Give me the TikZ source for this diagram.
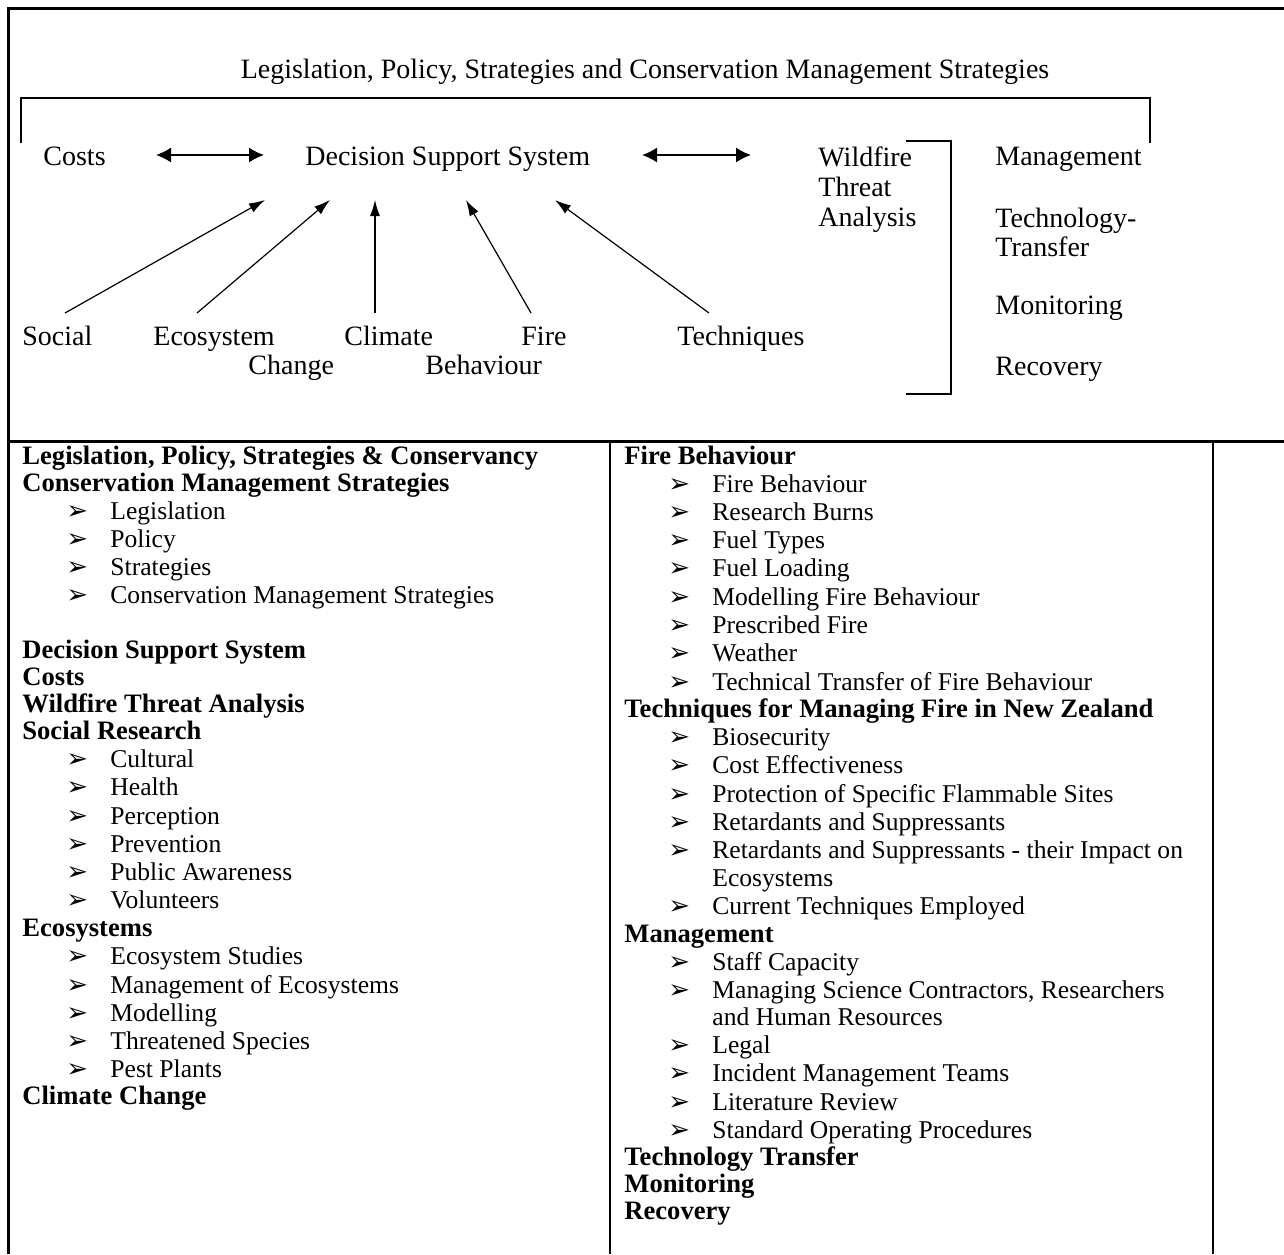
\documentclass[tikz,border=0pt]{standalone}
\usepackage{fontspec}
\setmainfont{Liberation Serif}
\newfontfamily\symfont{DejaVu Sans}
\usetikzlibrary{arrows.meta}

\newcommand{\bul}{\makebox[22pt][l]{\raisebox{-0.3pt}{\symfont\fontsize{13}{14}\selectfont ➢}}}

\begin{document}
\begin{tikzpicture}[x=0.5pt,y=-0.5pt,>=Latex,every text node part/.style={align=left},
		toptxt/.style={font=\fontsize{14}{15}\selectfont,inner sep=0pt},
		heading/.style={font=\bfseries\fontsize{13.3}{15}\selectfont,inner sep=0pt,anchor=base west},
		item/.style={font=\fontsize{12.8}{15}\selectfont,inner sep=0pt,anchor=base west},
		frame/.style={line width=1.5pt},
		rule/.style={line width=1pt},
		link/.style={{Latex[length=7.5pt,width=7.5pt]}-{Latex[length=7.5pt,width=7.5pt]},line width=0.75pt},
		feed/.style={-{Latex[length=8pt,width=5pt]},line width=0.6pt}]
		\useasboundingbox (0,0) rectangle (1284,1254);

		% upper panel
		\draw[frame] (1284,8) -- (8,8) -- (8,1254);
		\draw[frame] (8,441) -- (1284,441);
		\draw[rule] (21,143) -- (21,98) -- (1150,98) -- (1150,143);
		\draw[rule] (906,141) -- (951,141) -- (951,394) -- (906,394);

		\node[toptxt,anchor=base] (lps) at (645,78) {Legislation, Policy, Strategies and Conservation Management Strategies};
		\node[toptxt,anchor=base west] (costs) at (43,165) {Costs};
		\node[toptxt,anchor=base west] (dss) at (305,165) {Decision Support System};
		\node[toptxt,anchor=north west,font=\fontsize{14}{15}\selectfont] (wta) at (818,146) {Wildfire\\Threat\\Analysis};
		\node[toptxt,anchor=base west] (mgmt) at (995,165) {Management};
		\node[toptxt,anchor=north west,font=\fontsize{14}{14.5}\selectfont] (ttr) at (995,208) {Technology-\\Transfer};
		\node[toptxt,anchor=base west] (mon) at (995,314) {Monitoring};
		\node[toptxt,anchor=base west] (rec) at (995,375) {Recovery};

		\node[toptxt,anchor=base west] (social) at (22,345) {Social};
		\node[toptxt,anchor=base west] (ecosys) at (153,345) {Ecosystem};
		\node[toptxt,anchor=base west] (change) at (248,374) {Change};
		\node[toptxt,anchor=base west] (climate) at (344,345) {Climate};
		\node[toptxt,anchor=base west] (fire) at (521,345) {Fire};
		\node[toptxt,anchor=base west] (behav) at (425,374) {Behaviour};
		\node[toptxt,anchor=base west] (techn) at (677,345) {Techniques};

		\coordinate (costsR) at (156,155);
		\coordinate (dssL) at (264,155);
		\coordinate (dssR) at (642,155);
		\coordinate (wtaL) at (751,155);
		\draw[link] (costsR) -- (dssL);
		\draw[link] (dssR) -- (wtaL);

		\foreach \nm/\tx/\hx in {social/65/265,ecosys/197/330,climate/375/375,fire/531/466,techn/709/555}
		{
			\coordinate (\nm-t) at (\tx,313);
			\coordinate (\nm-h) at (\hx,200);
			\draw[feed] (\nm-t) -- (\nm-h);
		}

		% lower table
		\draw[rule] (610,441) -- (610,1254);
		\draw[rule] (1213,441) -- (1213,1254);

		\node[heading] (h1) at (22,464) {Legislation, Policy, Strategies \& Conservancy};
		\node[heading] (h2) at (22,491) {Conservation Management Strategies};
		\foreach \txt/\yy [count=\i] in {Legislation/519,Policy/547,Strategies/575,Conservation Management Strategies/603}
			\node[item] (lp\i) at (66,\yy) {\bul\txt};
		\node[heading] (h3) at (22,658) {Decision Support System};
		\node[heading] (h4) at (22,685) {Costs};
		\node[heading] (h5) at (22,712) {Wildfire Threat Analysis};
		\node[heading] (h6) at (22,739) {Social Research};
		\foreach \txt/\yy [count=\i] in {Cultural/767,Health/795,Perception/824,Prevention/852,Public Awareness/880,Volunteers/908}
			\node[item] (sr\i) at (66,\yy) {\bul\txt};
		\node[heading] (h7) at (22,936) {Ecosystems};
		\foreach \txt/\yy [count=\i] in {Ecosystem Studies/964,Management of Ecosystems/993,Modelling/1021,Threatened Species/1049,Pest Plants/1077}
			\node[item] (es\i) at (66,\yy) {\bul\txt};
		\node[heading] (h8) at (22,1104) {Climate Change};

		\node[heading] (k1) at (624,464) {Fire Behaviour};
		\foreach \txt/\yy [count=\i] in {Fire Behaviour/492,Research Burns/520,Fuel Types/548,Fuel Loading/576,Modelling Fire Behaviour/605,Prescribed Fire/633,Weather/661,Technical Transfer of Fire Behaviour/690}
			\node[item] (fb\i) at (668,\yy) {\bul\txt};
		\node[heading] (k2) at (624,717) {Techniques for Managing Fire in New Zealand};
		\foreach \txt/\yy [count=\i] in {Biosecurity/745,Cost Effectiveness/773,Protection of Specific Flammable Sites/802,Retardants and Suppressants/830,Retardants and Suppressants - their Impact on/858,Current Techniques Employed/914}
			\node[item] (tf\i) at (668,\yy) {\bul\txt};
		\node[item] (tf5b) at (712,886) {Ecosystems};
		\node[heading] (k3) at (624,942) {Management};
		\foreach \txt/\yy [count=\i] in {Staff Capacity/970,{Managing Science Contractors, Researchers}/998,Legal/1053,Incident Management Teams/1081,Literature Review/1110,Standard Operating Procedures/1138}
			\node[item] (mg\i) at (668,\yy) {\bul\txt};
		\node[item] (mg2b) at (712,1025) {and Human Resources};
		\node[heading] (k4) at (624,1165) {Technology Transfer};
		\node[heading] (k5) at (624,1192) {Monitoring};
		\node[heading] (k6) at (624,1219) {Recovery};

	\end{tikzpicture}
\end{document}
